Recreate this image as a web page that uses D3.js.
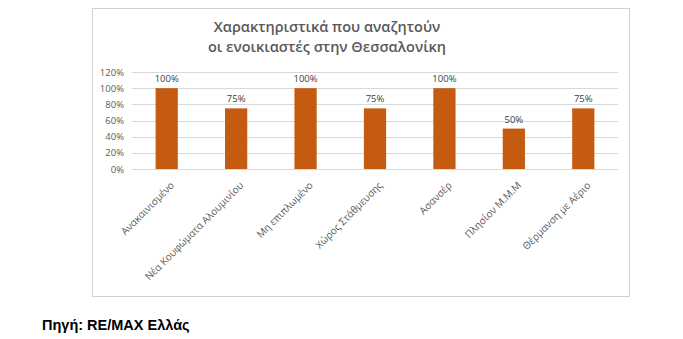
<!DOCTYPE html>
<html>
<head>
<meta charset="utf-8">
<script src="https://cdn.jsdelivr.net/npm/d3@7/dist/d3.min.js"></script>
<style>
  html, body { margin: 0; padding: 0; background: #fff; }
  svg { display: block; }
</style>
</head>
<body>
<script>
// Rental features sought in Thessaloniki (share of responses)
const categories = [
  "Ανακαινισμένο",
  "Νέα Κουφώματα Αλουμινίου",
  "Μη επιπλωμένο",
  "Χώρος Στάθμευσης",
  "Ασανσέρ",
  "Πλησίον Μ.Μ.Μ",
  "Θέρμανση με Αέριο"
];
const values = [100, 75, 100, 75, 100, 50, 75];
const yTicks = [0, 20, 40, 60, 80, 100, 120];
const titleLines = ["Χαρακτηριστικά που αναζητούν", "οι ενοικιαστές στην Θεσσαλονίκη"];
const sourceText = "Πηγή: RE/MAX Ελλάς";

const W = 683, H = 339;
const svg = d3.select("body").append("svg").attr("width", W).attr("height", H);

const textGray = "#595959";
const gridGray = "#d9d9d9";
const barColor = "#c55a11";
const font = "'Open Sans', 'Noto Sans', sans-serif";

// chart frame
svg.append("rect")
  .attr("x", 92.5).attr("y", 8.5).attr("width", 537).attr("height", 288)
  .attr("fill", "#fff").attr("stroke", "#d0d0d0").attr("stroke-width", 1);

// title
const title = svg.append("text")
  .attr("text-anchor", "middle")
  .attr("font-family", font)
  .attr("font-size", 14.5)
  .attr("font-weight", 600)
  .attr("fill", textGray);
titleLines.forEach((t, i) => {
  title.append("tspan").attr("x", 327).attr("y", 32 + i * 19.5).text(t);
});

const x = d3.scaleBand().domain(categories).range([132, 618]).paddingInner(0.68).paddingOuter(0.34);
const y = d3.scaleLinear().domain([0, 120]).range([169, 72]);

// gridlines
svg.append("g")
  .selectAll("line").data(yTicks).join("line")
  .attr("x1", 132).attr("x2", 618)
  .attr("y1", d => Math.round(y(d)) + 0.5).attr("y2", d => Math.round(y(d)) + 0.5)
  .attr("stroke", gridGray).attr("stroke-width", 1);

// y axis labels
const yAxis = svg.append("g")
  .attr("transform", "translate(132,0)")
  .call(d3.axisLeft(y).tickValues(yTicks).tickFormat(d => d + "%").tickSize(0).tickPadding(8));
yAxis.select(".domain").remove();
yAxis.selectAll("text")
  .attr("font-family", font).attr("font-size", 9.5).attr("fill", textGray);

// bars
svg.append("g")
  .selectAll("rect").data(values).join("rect")
  .attr("x", (d, i) => x(categories[i]))
  .attr("width", x.bandwidth())
  .attr("y", d => y(d))
  .attr("height", d => y(0) - y(d))
  .attr("fill", barColor);

// value labels
svg.append("g")
  .selectAll("text").data(values).join("text")
  .attr("x", (d, i) => x(categories[i]) + x.bandwidth() / 2)
  .attr("y", d => y(d) - 6)
  .attr("text-anchor", "middle")
  .attr("font-family", font).attr("font-size", 9.5)
  .attr("fill", "#404040")
  .text(d => d + "%");

// rotated category labels
const xAxis = svg.append("g")
  .attr("transform", `translate(0,${y(0)})`)
  .call(d3.axisBottom(x).tickSize(0).tickPadding(0));
xAxis.select(".domain").remove();
xAxis.selectAll("text")
  .attr("font-family", font).attr("font-size", 10).attr("fill", textGray)
  .attr("text-anchor", "end")
  .attr("dy", 0)
  .attr("transform", "translate(8,17) rotate(-45)");

// source note
svg.append("text")
  .attr("x", 42).attr("y", 330)
  .attr("font-family", "'Liberation Sans', Arial, sans-serif")
  .attr("font-size", 14.5).attr("font-weight", 700)
  .attr("fill", "#000")
  .text(sourceText);
</script>
</body>
</html>
